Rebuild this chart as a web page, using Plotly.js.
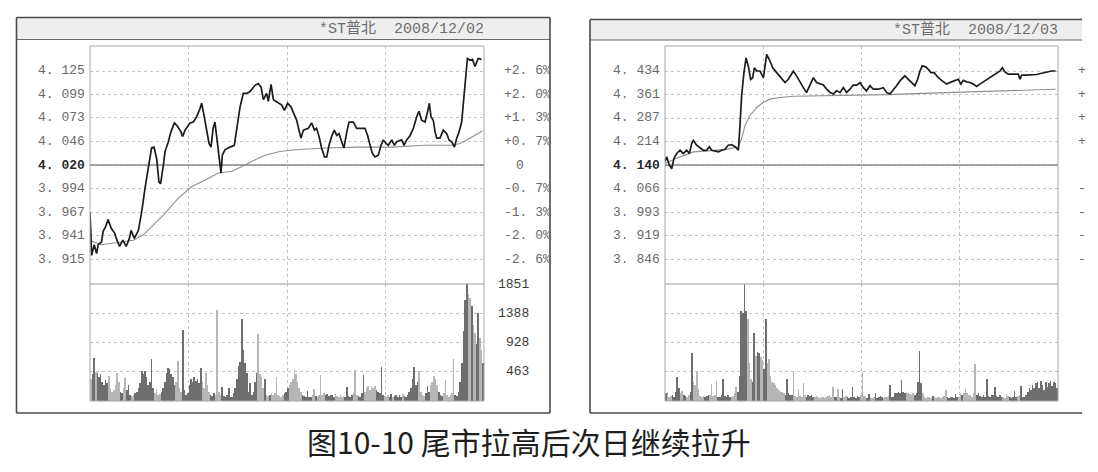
<!DOCTYPE html>
<html>
<head>
<meta charset="utf-8">
<script src="https://cdn.plot.ly/plotly-3.0.1.min.js"></script>
<style>
html, body { margin: 0; padding: 0; background: #fff; }
#chart { width: 1098px; height: 472px; }
</style>
</head>
<body>
<div id="chart"></div>
<script>
// ---- data (minutes from the open, 0..240) ----
const hourTicks = [60, 120, 180];

// day 1 : 2008/12/02
const day1Title = '*ST普北  2008/12/02';
const day1PrevClose = 4.020;
const day1PriceLabels = ['4.125', '4.099', '4.073', '4.046', '4.020', '3.994', '3.967', '3.941', '3.915'];
const day1PctLabels = ['+2.6%', '+2.0%', '+1.3%', '+0.7%', '0', '-0.7%', '-1.3%', '-2.0%', '-2.6%'];
const day1VolLabels = ['1851', '1388', '928', '463'];
const day1Time = [0, 1, 2.6, 4, 5, 7, 8, 9.5, 11, 13, 15, 16, 18, 20, 22, 24, 25, 27, 29.5, 31.5,
  33.5, 35.5, 37.5, 39, 40.6, 42, 43, 44.7, 45.7, 47.7, 49.3, 51.4, 53.4, 55.4, 56.4, 57.9, 60.9, 63, 65, 67,
  68, 69.4, 71, 72.5, 73.7, 75, 76.1, 77.8, 78.8, 79.8, 80.6, 82.2, 85.3, 87.9, 90, 91.4, 93.4, 95.4, 97.5, 100.5,
  102.5, 104.2, 105.6, 107.6, 108.6, 110.3, 111.7, 113.7, 116.8, 118.4, 120.4, 122.4, 123.9, 125.9, 127.3, 128.5, 130, 133, 135, 136.7,
  138, 139.5, 141.1, 142.8, 144.2, 145.6, 147.2, 148.8, 150.3, 151.7, 153.3, 154.7, 156.4, 157.8, 160.4, 162.4, 167.5, 169.1, 170.6, 172,
  173.6, 175.6, 177.3, 178.7, 180.3, 181.7, 183.8, 185.4, 186.8, 189.9, 191.3, 192.9, 195, 197, 199, 200.4, 202, 204.1, 205.7, 206.7,
  207.7, 209.1, 210.2, 211.2, 213.2, 215.2, 217.3, 218.7, 220.3, 222, 223.4, 224.8, 226.4, 227.8, 228.8, 229.9, 231.5, 233, 234.5, 236.5, 238.5];
const day1Price = [3.967, 3.919, 3.931, 3.921, 3.931, 3.934, 3.946, 3.951, 3.959, 3.949, 3.944, 3.938, 3.929, 3.936, 3.929, 3.938, 3.947, 3.938, 3.947, 3.968,
  3.994, 4.016, 4.039, 4.040, 4.027, 4.001, 3.999, 4.020, 4.035, 4.046, 4.057, 4.067, 4.063, 4.057, 4.052, 4.059, 4.067, 4.068, 4.074, 4.083,
  4.089, 4.076, 4.061, 4.044, 4.040, 4.061, 4.068, 4.042, 4.026, 4.011, 4.031, 4.037, 4.040, 4.042, 4.068, 4.085, 4.100, 4.100, 4.102, 4.109,
  4.111, 4.107, 4.093, 4.100, 4.091, 4.110, 4.093, 4.091, 4.087, 4.081, 4.089, 4.085, 4.078, 4.070, 4.059, 4.050, 4.059, 4.061, 4.067, 4.059,
  4.061, 4.052, 4.039, 4.029, 4.029, 4.042, 4.052, 4.059, 4.053, 4.055, 4.046, 4.039, 4.057, 4.068, 4.068, 4.061, 4.061, 4.053, 4.042, 4.033,
  4.029, 4.031, 4.042, 4.048, 4.044, 4.042, 4.048, 4.042, 4.046, 4.048, 4.042, 4.048, 4.053, 4.061, 4.074, 4.080, 4.070, 4.068, 4.080, 4.089,
  4.074, 4.070, 4.057, 4.050, 4.050, 4.059, 4.055, 4.048, 4.046, 4.040, 4.050, 4.057, 4.068, 4.098, 4.124, 4.139, 4.137, 4.138, 4.130, 4.139, 4.138];
const day1AvgTime = [0, 1, 7, 17.3, 26.4, 32.5, 37.6, 45.7, 53.8, 62, 70, 78.2, 86.3, 92.4, 98.5, 106.6, 115.7, 124.9, 143.2, 163.5,
  183.8, 204.1, 220.3, 225.4, 229.5, 236.7, 239];
const day1Avg = [3.955, 3.935, 3.931, 3.934, 3.936, 3.942, 3.951, 3.966, 3.983, 3.996, 4.003, 4.011, 4.013, 4.018, 4.024, 4.031, 4.035, 4.037, 4.039, 4.040,
  4.040, 4.042, 4.042, 4.044, 4.048, 4.056, 4.058];
const day1Vol = [
  350, 420, 673, 460, 440, 380, 420, 300, 250, 330, 280, 400, 200, 150, 180, 260, 440, 300, 150, 120,
  200, 360, 180, 250, 100, 80, 90, 120, 150, 200, 280, 480, 430, 470, 380, 250, 300, 660, 200, 120,
  190, 90, 110, 150, 200, 300, 450, 515, 500, 420, 380, 250, 300, 636, 200, 150, 1120, 180, 90, 120,
  250, 350, 300, 380, 320, 350, 280, 530, 300, 200, 450, 250, 150, 100, 80, 120, 100, 1441, 150, 100,
  220, 80, 60, 100, 200, 70, 60, 120, 200, 350, 550, 610, 1304, 810, 600, 450, 150, 290, 100, 150,
  300, 450, 1057, 420, 380, 200, 350, 100, 80, 90, 120, 100, 130, 373, 100, 80, 60, 90, 120, 150,
  200, 250, 300, 350, 494, 420, 300, 200, 150, 100, 80, 60, 160, 70, 60, 90, 190, 80, 60, 90,
  410, 100, 120, 90, 110, 80, 100, 90, 70, 110, 80, 60, 90, 70, 80, 60, 220, 80, 60, 90,
  120, 494, 100, 80, 60, 120, 410, 150, 200, 230, 180, 240, 200, 230, 180, 150, 120, 531, 100, 80,
  60, 90, 70, 110, 60, 80, 100, 70, 90, 60, 110, 80, 70, 90, 150, 200, 350, 531, 250, 300,
  480, 150, 100, 80, 120, 230, 150, 250, 300, 400, 350, 250, 150, 100, 80, 120, 337, 90, 70, 100,
  120, 663, 100, 80, 150, 300, 600, 1100, 1600, 1851, 1700, 1627, 1500, 1200, 1079, 900, 1392, 1000, 800, 600];

// day 2 : 2008/12/03 (its right-hand scale is cut off by the picture's edge)
const day2Title = '*ST普北  2008/12/03';
const day2PrevClose = 4.140;
const day2PriceLabels = ['4.434', '4.361', '4.287', '4.214', '4.140', '4.066', '3.993', '3.919', '3.846'];
const day2PctLabels = ['+', '+', '+', '+', '', '-', '-', '-', '-'];
const day2Time = [0, 1, 2.6, 4.1, 5.5, 7.1, 9.2, 11.2, 13.2, 14.9, 16.3, 17.3, 19.3, 21.4, 23.4, 25.4, 27.1, 28.5, 30.5, 32.6,
  34.6, 36.6, 38.7, 40.7, 42.8, 44.8, 45.8, 46.8, 48.2, 49.5, 50.9, 52.3, 53.5, 54.6, 56, 58, 60.1, 61.1, 62.1, 63.7,
  65.8, 68.2, 70.6, 73.3, 75.3, 77.4, 78.4, 80.4, 82.5, 84.5, 86.5, 88.6, 90.6, 92.6, 94.7, 96.7, 98.7, 100.8, 102.8, 104.8,
  106.9, 108.9, 110.9, 113, 115, 117.1, 119.1, 121.1, 123.1, 125.2, 127.2, 130.3, 133.3, 135.3, 137.4, 139.4, 141.4, 143.5, 146.5, 148.6,
  150.6, 152.6, 154.3, 155.7, 157.1, 159.2, 160.8, 162.4, 164.4, 166.9, 169.3, 172, 175, 177.1, 179.1, 180.7, 182.2, 184.2, 186.2, 188.3,
  190.3, 192.3, 195.4, 198.4, 201.5, 204.6, 206, 207.6, 209.6, 211.7, 215.7, 216.8, 217.8, 220.8, 223.9, 226.9, 230, 233, 236.1, 238.5];
const day2Price = [4.150, 4.166, 4.140, 4.128, 4.161, 4.176, 4.186, 4.176, 4.186, 4.176, 4.207, 4.217, 4.202, 4.194, 4.186, 4.186, 4.197, 4.186, 4.183, 4.181,
  4.186, 4.189, 4.202, 4.204, 4.197, 4.186, 4.264, 4.357, 4.429, 4.475, 4.449, 4.408, 4.413, 4.444, 4.434, 4.434, 4.413, 4.460, 4.486, 4.470,
  4.444, 4.429, 4.413, 4.398, 4.408, 4.424, 4.434, 4.418, 4.398, 4.382, 4.367, 4.388, 4.413, 4.398, 4.393, 4.390, 4.377, 4.367, 4.362, 4.372,
  4.367, 4.382, 4.367, 4.377, 4.390, 4.390, 4.398, 4.382, 4.372, 4.388, 4.377, 4.377, 4.382, 4.367, 4.362, 4.377, 4.388, 4.403, 4.419, 4.408,
  4.398, 4.388, 4.408, 4.434, 4.450, 4.447, 4.439, 4.429, 4.429, 4.413, 4.403, 4.393, 4.400, 4.403, 4.408, 4.393, 4.405, 4.400, 4.398, 4.393,
  4.386, 4.393, 4.403, 4.413, 4.424, 4.434, 4.444, 4.431, 4.424, 4.424, 4.424, 4.408, 4.421, 4.421, 4.421, 4.423, 4.427, 4.431, 4.434, 4.434];
const day2AvgTime = [0, 7.1, 17.3, 27.5, 37.7, 44.8, 46.8, 48.9, 51.9, 56, 60.1, 64.1, 70.2, 78.4, 98.7, 119.1, 136.4, 156.7, 177.1, 197.4,
  217.8, 238.5];
const day2Avg = [4.145, 4.161, 4.181, 4.186, 4.189, 4.197, 4.223, 4.264, 4.295, 4.320, 4.336, 4.346, 4.351, 4.355, 4.357, 4.357, 4.360, 4.364, 4.367, 4.369,
  4.372, 4.377];
const day2Vol = [
  120, 137, 60, 80, 100, 60, 150, 373, 200, 130, 163, 100, 80, 60, 90, 150, 757, 300, 250, 479,
  190, 84, 70, 84, 60, 80, 90, 100, 268, 80, 100, 320, 70, 60, 90, 347, 80, 60, 100, 70,
  60, 80, 120, 215, 150, 400, 1425, 1400, 1851, 1425, 1300, 600, 347, 300, 1073, 715, 768, 760, 700, 650,
  500, 1304, 600, 663, 400, 300, 280, 250, 200, 180, 140, 150, 120, 100, 347, 120, 90, 100, 479, 80,
  60, 190, 80, 60, 284, 90, 70, 100, 80, 90, 70, 60, 80, 60, 50, 70, 60, 50, 60, 80,
  90, 70, 215, 70, 60, 190, 60, 50, 190, 60, 80, 60, 50, 60, 215, 60, 50, 80, 60, 100,
  463, 80, 60, 50, 110, 60, 50, 60, 130, 50, 60, 80, 60, 50, 60, 70, 80, 252, 60, 70,
  130, 120, 140, 120, 337, 140, 120, 150, 130, 110, 90, 130, 100, 120, 300, 794, 290, 120, 60, 50,
  70, 60, 50, 80, 60, 50, 70, 60, 50, 60, 80, 179, 60, 50, 70, 60, 50, 110, 60, 70,
  130, 100, 120, 190, 130, 100, 90, 60, 120, 584, 100, 130, 80, 60, 90, 70, 347, 80, 60, 100,
  90, 215, 80, 60, 90, 70, 60, 50, 110, 80, 60, 50, 70, 160, 60, 80, 90, 242, 70, 60,
  90, 150, 200, 180, 250, 200, 280, 300, 200, 320, 250, 180, 305, 220, 280, 320, 240, 300, 280, 200];

const caption = '图10-10 尾市拉高后次日继续拉升';

// ---- page geometry (pixels) ----
const W = 1098, H = 472;
const priceTop = 46, priceBot = 284, volBot = 401, frameBot = 413;
const fx = p => p / W;
const fy = p => 1 - p / H;

const panels = [
  { plotL: 90, plotR: 484, frameL: 16.5, frameR: 550, rightEdge: true, frameT: 17.5, headB: 39.5,
    title: day1Title, prev: day1PrevClose, priceLabels: day1PriceLabels, pctLabels: day1PctLabels,
    volLabels: day1VolLabels, pctX: 502, zeroX: 520, volX: 531,
    t: day1Time, p: day1Price, at: day1AvgTime, a: day1Avg, v: day1Vol },
  { plotL: 665, plotR: 1058, frameL: 590, frameR: 1082, rightEdge: false, frameT: 19.5, headB: 40,
    title: day2Title, prev: day2PrevClose, priceLabels: day2PriceLabels, pctLabels: day2PctLabels,
    volLabels: null, pctX: 1076, zeroX: 1090, volX: 1100,
    t: day2Time, p: day2Price, at: day2AvgTime, a: day2Avg, v: day2Vol }
];

function interp(ts, vs, t) {
  if (t <= ts[0]) return vs[0];
  for (let i = 1; i < ts.length; i++) {
    if (t <= ts[i]) {
      const k = (t - ts[i - 1]) / (ts[i] - ts[i - 1]);
      return vs[i - 1] + k * (vs[i] - vs[i - 1]);
    }
  }
  return vs[vs.length - 1];
}

function hline(x0, x1, y, color, width) {
  return { type: 'line', xref: 'paper', yref: 'paper', layer: 'above',
    x0: fx(x0), x1: fx(x1), y0: fy(y), y1: fy(y), line: { color: color, width: width } };
}
function vline(x, y0, y1, color, width) {
  return { type: 'line', xref: 'paper', yref: 'paper', layer: 'above',
    x0: fx(x), x1: fx(x), y0: fy(y0), y1: fy(y1), line: { color: color, width: width } };
}

const labelFont = { family: 'Liberation Mono, DejaVu Sans Mono, monospace', size: 13, color: '#6a6a6a' };
const gridStyle = { showgrid: true, gridcolor: '#c4c4c4', griddash: 'dot', gridwidth: 1 };

const traces = [];
const layout = {
  width: W, height: H,
  margin: { l: 0, r: 0, t: 0, b: 0 },
  paper_bgcolor: '#ffffff', plot_bgcolor: '#ffffff',
  showlegend: false, bargap: 0,
  shapes: [], annotations: []
};

panels.forEach((pn, k) => {
  const n = 2 * k + 1;
  const sfx = n === 1 ? '' : String(n);
  const xa = 'x' + sfx, ya = 'y' + sfx;
  const xb = 'x' + (n + 1), yb = 'y' + (n + 1);
  const step = (parseFloat(pn.priceLabels[0]) - pn.prev) / 4;
  const half = (priceBot - priceTop) / 2 / 23.5 * step;
  const vTop = parseFloat(day1VolLabels[0]);

  const xCommon = Object.assign({ range: [0, 240], tickvals: hourTicks, showticklabels: false, ticks: '',
    zeroline: false, showline: false, fixedrange: true,
    domain: [fx(pn.plotL), fx(pn.plotR)] }, gridStyle);

  layout['xaxis' + sfx] = Object.assign({ anchor: ya }, xCommon);
  layout['xaxis' + (n + 1)] = Object.assign({ anchor: yb }, xCommon);
  layout['yaxis' + sfx] = Object.assign({
    anchor: xa, range: [pn.prev - half, pn.prev + half],
    tickvals: pn.priceLabels.map(Number), showticklabels: false, ticks: '',
    zeroline: false, showline: false, fixedrange: true,
    domain: [fy(priceBot), fy(priceTop)] }, gridStyle);
  layout['yaxis' + (n + 1)] = Object.assign({
    anchor: xb, range: [0, vTop],
    tickvals: day1VolLabels.slice(1).map(Number), showticklabels: false, ticks: '',
    zeroline: false, showline: false, fixedrange: true,
    domain: [fy(volBot), fy(priceBot)] }, gridStyle);

  // previous close line, average price line and price line
  traces.push({ type: 'scatter', mode: 'lines', x: [0, 240], y: [pn.prev, pn.prev], xaxis: xa, yaxis: ya,
    line: { color: '#8a8a8a', width: 1.3 }, hoverinfo: 'skip' });
  traces.push({ type: 'scatter', mode: 'lines', x: pn.at, y: pn.a, xaxis: xa, yaxis: ya,
    line: { color: '#8f8f8f', width: 1.1 }, hoverinfo: 'skip' });
  traces.push({ type: 'scatter', mode: 'lines', x: pn.t, y: pn.p, xaxis: xa, yaxis: ya,
    line: { color: '#1c1c1c', width: 1.7 }, hoverinfo: 'skip' });

  // volume bars, shaded by the minute direction of the price line
  const mins = pn.v.map((_, i) => i + 0.5);
  const cols = pn.v.map((_, i) => interp(pn.t, pn.p, i + 1) >= interp(pn.t, pn.p, i) ? '#6e6e6e' : '#b6b6b6');
  traces.push({ type: 'bar', x: mins, y: pn.v, width: 1, xaxis: xb, yaxis: yb,
    marker: { color: cols, line: { width: 0 } }, hoverinfo: 'skip' });

  // frame, header strip, plot borders
  const S = layout.shapes;
  S.push({ type: 'rect', xref: 'paper', yref: 'paper', layer: 'below',
    x0: fx(pn.frameL), x1: fx(pn.frameR), y0: fy(pn.frameT), y1: fy(pn.headB),
    fillcolor: '#eeeeee', line: { width: 0 } });
  S.push(hline(pn.frameL, pn.frameR, pn.frameT, '#4a4a4a', 1.6));
  S.push(hline(pn.frameL, pn.frameR, frameBot, '#4a4a4a', 1.6));
  S.push(hline(pn.frameL, pn.frameR, pn.headB, '#6a6a6a', 1.2));
  S.push(vline(pn.frameL, pn.frameT, frameBot, '#4a4a4a', 1.6));
  if (pn.rightEdge) S.push(vline(pn.frameR, pn.frameT, frameBot, '#4a4a4a', 1.6));
  S.push({ type: 'rect', xref: 'paper', yref: 'paper', layer: 'above',
    x0: fx(pn.plotL), x1: fx(pn.plotR), y0: fy(volBot), y1: fy(priceTop),
    line: { color: '#a8a8a8', width: 1 } });
  S.push(hline(pn.plotL, pn.plotR, priceBot, '#9a9a9a', 1.2));

  // texts
  const A = layout.annotations;
  A.push({ xref: 'paper', yref: 'paper', x: fx(pn.plotR + 2), y: fy((pn.frameT + pn.headB) / 2),
    xanchor: 'right', yanchor: 'middle', showarrow: false, text: pn.title,
    font: { family: 'Liberation Mono, Noto Sans CJK SC, monospace', size: 15, color: '#6e6e6e' } });
  pn.priceLabels.forEach((lb, i) => {
    const mid = i === 4;
    A.push({ xref: 'paper', yref: ya, x: fx(pn.plotL - 3), y: Number(lb), xanchor: 'right', yanchor: 'middle',
      showarrow: false, text: mid ? '<b>' + lb.replace('.', '. ') + '</b>' : lb.replace('.', '. '),
      font: Object.assign({}, labelFont, mid ? { color: '#2a2a2a' } : {}) });
  });
  pn.pctLabels.forEach((lb, i) => {
    if (!lb) return;
    const mid = i === 4;
    A.push({ xref: 'paper', yref: ya, x: fx(mid ? pn.zeroX : pn.pctX), y: Number(pn.priceLabels[i]),
      xanchor: mid ? 'center' : 'left', yanchor: 'middle', showarrow: false,
      text: lb.replace('.', '. '), font: labelFont });
  });
  if (pn.volLabels) {
    pn.volLabels.forEach(lb => {
      A.push({ xref: 'paper', yref: yb, x: fx(pn.volX), y: Number(lb), xanchor: 'right', yanchor: 'middle',
        showarrow: false, text: lb, font: Object.assign({}, labelFont, { color: '#3a3a3a' }) });
    });
  }
});

layout.annotations.push({ xref: 'paper', yref: 'paper', x: fx(529), y: fy(441),
  xanchor: 'center', yanchor: 'middle', showarrow: false, text: caption,
  font: { family: 'Noto Sans CJK SC, sans-serif', size: 30, color: '#1e1e1e' } });

Plotly.newPlot('chart', traces, layout, { staticPlot: true, displayModeBar: false });
</script>
</body>
</html>
